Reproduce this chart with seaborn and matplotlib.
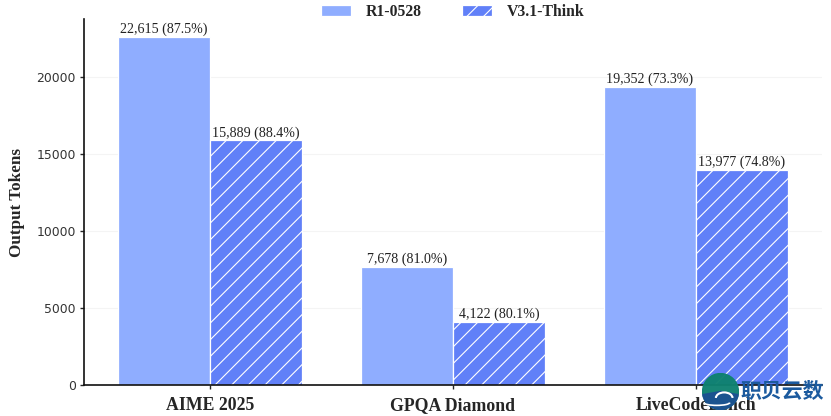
import matplotlib
matplotlib.use('Agg')
import matplotlib.pyplot as plt
from matplotlib.patches import Circle, Wedge, Arc
import seaborn as sns
import pandas as pd

datasets = ['AIME 2025', 'GPQA Diamond', 'LiveCodeBench']
models = ['R1-0528', 'V3.1-Think']
r1_tokens = [22615, 7678, 19352]
v31_tokens = [15889, 4122, 13977]
r1_labels = ['22,615 (87.5%)', '7,678 (81.0%)', '19,352 (73.3%)']
v31_labels = ['15,889 (88.4%)', '4,122 (80.1%)', '13,977 (74.8%)']

sns.set_style('white')
plt.rcParams['font.family'] = ['Liberation Serif', 'DejaVu Serif']
plt.rcParams['hatch.color'] = 'white'
plt.rcParams['hatch.linewidth'] = 0.8

df = pd.DataFrame({
    'dataset': datasets * 2,
    'model': [models[0]] * 3 + [models[1]] * 3,
    'tokens': r1_tokens + v31_tokens,
})

fig, ax = plt.subplots(figsize=(8.31, 4.16), dpi=100)
sns.barplot(data=df, x='dataset', y='tokens', hue='model', hue_order=models,
            palette=['#8fadff', '#6180f8'], width=0.757, gap=0, saturation=1,
            edgecolor='white', linewidth=0.9, ax=ax, zorder=2)

for bar in ax.containers[1]:
    bar.set_hatch('//')

ax.bar_label(ax.containers[0], labels=r1_labels, fontsize=10.1, padding=0.5, color='#222222')
ax.bar_label(ax.containers[1], labels=v31_labels, fontsize=10.1, padding=0.5, color='#222222')

ax.set_xlim(-0.5185, 2.519)
ax.set_ylim(0, 23770)
ax.set_xlabel('')
ax.set_ylabel('Output Tokens', fontsize=12.3, fontweight='bold', labelpad=8)
ax.set_yticks([0, 5000, 10000, 15000, 20000])
ax.set_yticklabels(['0', '5000', '10000', '15000', '20000'], family='DejaVu Sans', color='#333333')
ax.tick_params(axis='y', labelsize=8.9, length=3, left=True, pad=3, width=1)
ax.tick_params(axis='x', labelsize=12.8, length=3, bottom=True, pad=5.5, width=1)
for t in ax.get_xticklabels():
    t.set_fontweight('bold')
ax.grid(axis='y', color='#f4f4f4', linewidth=0.8, zorder=0)
ax.set_axisbelow(True)
sns.despine(ax=ax)
for side in ['left', 'bottom']:
    ax.spines[side].set_linewidth(1.2)
    ax.spines[side].set_color('#111111')

leg = ax.legend(loc='upper center', bbox_to_anchor=(0.5, 1.08), ncol=2, frameon=False,
                fontsize=11.3, handlelength=1.91, handleheight=0.72,
                handletextpad=0.96, columnspacing=2.55)
for t in leg.get_texts():
    t.set_fontweight('bold')
leg.legend_handles[1].set_hatch('//')

# watermark in the corner
logo = fig.add_axes([702 / 831, 6 / 416, 37 / 831, 37 / 416], zorder=5)
logo.set_axis_off()
logo.set_xlim(-1, 1)
logo.set_ylim(-1, 1)
logo.add_patch(Circle((0, 0), 0.97, color='#0f8270', alpha=0.97))
logo.add_patch(Wedge((0, 0), 0.97, 190, 350, color='#1c4f93', alpha=0.9))
logo.add_patch(Arc((0.2, -0.35), 0.9, 0.6, theta1=0, theta2=180, color='white', lw=1.5))
logo.add_patch(Arc((-0.2, -0.6), 1.4, 0.3, theta1=180, theta2=360, color='white', lw=1.2))
fig.text(740 / 831, 1 - 391 / 416, '职贝云数', fontsize=15, color='#1b5a9e', fontweight='bold',
         family=['Noto Sans CJK SC', 'DejaVu Sans'], va='center', zorder=6)

fig.subplots_adjust(left=0.1011, right=0.989, top=0.954, bottom=0.0745)
fig.savefig('out.png', dpi=100)
